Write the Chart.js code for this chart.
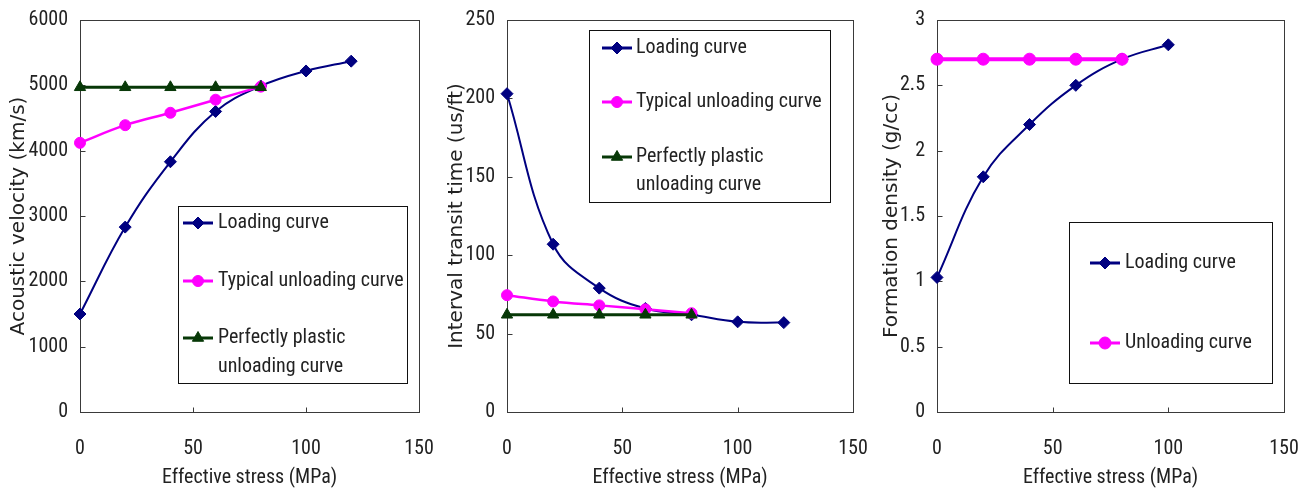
<!DOCTYPE html>
<html>
<head>
<meta charset="utf-8">
<script src="https://cdn.jsdelivr.net/npm/chart.js@4.4.1/dist/chart.umd.min.js"></script>
<style>
  html, body { margin: 0; padding: 0; background: #fff; }
  body { width: 1311px; height: 490px; position: relative; overflow: hidden; }
  .panel { position: absolute; top: 0; height: 490px; }
  canvas { display: block; }
</style>
</head>
<body>
<div class="panel" style="left:0px;width:442px"><canvas id="velocity" width="442" height="490"></canvas></div>
<div class="panel" style="left:438px;width:432px"><canvas id="transit" width="432" height="490"></canvas></div>
<div class="panel" style="left:873px;width:438px"><canvas id="density" width="438" height="490"></canvas></div>
<script>
// ---- data ----
const stressLoading = [0, 20, 40, 60, 80, 100, 120];
const stressUnloading = [0, 20, 40, 60, 80];
const stressDensityLoading = [0, 20, 40, 60, 80, 100];

const velocityLoading = [1500, 2830, 3830, 4600, 4990, 5220, 5370];
const velocityTypicalUnloading = [4120, 4390, 4580, 4780, 4980];
const velocityPlasticUnloading = [4970, 4970, 4970, 4970, 4970];

const transitLoading = [203, 107, 79, 66, 62, 57.5, 57];
const transitTypicalUnloading = [74.5, 70.5, 68, 65.5, 63];
const transitPlasticUnloading = [62, 62, 62, 62, 62];

const densityLoading = [1.03, 1.8, 2.2, 2.5, 2.7, 2.81];
const densityUnloading = [2.7, 2.7, 2.7, 2.7, 2.7];

// ---- tick values and labels ----
const stressTicks = [0, 50, 100, 150];
const stressTickLabels = ['0', '50', '100', '150'];
const velocityTicks = [0, 1000, 2000, 3000, 4000, 5000, 6000];
const velocityTickLabels = ['0', '1000', '2000', '3000', '4000', '5000', '6000'];
const transitTicks = [0, 50, 100, 150, 200, 250];
const transitTickLabels = ['0', '50', '100', '150', '200', '250'];
const densityTicks = [0, 0.5, 1, 1.5, 2, 2.5, 3];
const densityTickLabels = ['0', '0.5', '1', '1.5', '2', '2.5', '3'];

// ---- styling ----
const NAVY = '#000080';
const MAGENTA = '#ff00ff';
const GREEN = '#073807';
const TEXT = '#222';
const NARROW = "'Roboto Condensed', 'DejaVu Sans Condensed', sans-serif";
const WIDE = "'DejaVu Sans', sans-serif";
const NARROW_SIZE = 20;

function points(xs, ys) { return xs.map((x, i) => ({ x, y: ys[i] })); }

function drawMarker(ctx, style, r, x, y, color) {
  ctx.fillStyle = color;
  ctx.strokeStyle = color;
  ctx.lineWidth = 1;
  ctx.beginPath();
  if (style === 'rectRot') {
    ctx.moveTo(x, y - r); ctx.lineTo(x + r, y); ctx.lineTo(x, y + r); ctx.lineTo(x - r, y);
    ctx.closePath();
  } else if (style === 'triangle') {
    ctx.moveTo(x, y - r);
    ctx.lineTo(x + r * Math.sin(2 * Math.PI / 3), y - r * Math.cos(2 * Math.PI / 3));
    ctx.lineTo(x + r * Math.sin(4 * Math.PI / 3), y - r * Math.cos(4 * Math.PI / 3));
    ctx.closePath();
  } else {
    ctx.arc(x, y, r, 0, Math.PI * 2);
  }
  ctx.fill();
  ctx.stroke();
}

// plot frame with inward tick marks
const framePlugin = {
  id: 'plotFrame',
  beforeDatasetsDraw(chart) {
    const { ctx, chartArea: a, scales } = chart;
    const L = Math.round(a.left) + 0.5, R = Math.round(a.right) + 0.5;
    const T = Math.round(a.top) + 0.5, B = Math.round(a.bottom) + 0.5;
    ctx.save();
    ctx.strokeStyle = '#3a3a3a';
    ctx.lineWidth = 1;
    ctx.strokeRect(L, T, R - L, B - T);
    ctx.beginPath();
    scales.x.ticks.forEach(t => {
      const px = Math.round(scales.x.getPixelForValue(t.value)) + 0.5;
      ctx.moveTo(px, B); ctx.lineTo(px, B - 5);
    });
    scales.y.ticks.forEach(t => {
      const py = Math.round(scales.y.getPixelForValue(t.value)) + 0.5;
      ctx.moveTo(L, py); ctx.lineTo(L + 5, py);
    });
    ctx.stroke();
    ctx.restore();
  }
};

// boxed legend placed inside the plot
const boxLegendPlugin = {
  id: 'boxLegend',
  afterDatasetsDraw(chart, args, o) {
    const { ctx } = chart;
    ctx.save();
    ctx.fillStyle = '#fff';
    ctx.fillRect(o.box[0], o.box[1], o.box[2] - o.box[0], o.box[3] - o.box[1]);
    ctx.strokeStyle = '#111';
    ctx.lineWidth = 1;
    ctx.strokeRect(o.box[0] + 0.5, o.box[1] + 0.5, o.box[2] - o.box[0], o.box[3] - o.box[1]);
    chart.data.datasets.forEach((ds, i) => {
      const y = o.rows[i];
      ctx.strokeStyle = ds.borderColor;
      ctx.lineWidth = 3;
      ctx.beginPath();
      ctx.moveTo(o.seg[0], y); ctx.lineTo(o.seg[1], y);
      ctx.stroke();
      drawMarker(ctx, ds.pointStyle, ds.pointRadius, (o.seg[0] + o.seg[1]) / 2, y, ds.borderColor);
      ctx.fillStyle = TEXT;
      ctx.font = NARROW_SIZE + 'px ' + NARROW;
      ctx.textBaseline = 'middle';
      ctx.textAlign = 'left';
      ds.label.split('\n').forEach((line, k) => {
        ctx.fillText(line, o.textX, y + k * o.lineGap);
      });
    });
    ctx.restore();
  }
};

function tickSetter(values) {
  return scale => { scale.ticks = values.map(v => ({ value: v })); };
}
function labelFor(values, labels) {
  return v => { const i = values.indexOf(v); return i >= 0 ? labels[i] : ''; };
}
// fixed axis box sizes, without the automatic label overhang padding
function fixHeight(h) {
  return s => { s.height = h; s.paddingLeft = 0; s.paddingRight = 0; s.paddingTop = 0; s.paddingBottom = 0; };
}
function fixWidth(w) {
  return s => { s.width = w; s.paddingLeft = 0; s.paddingRight = 0; s.paddingTop = 0; s.paddingBottom = 0; };
}

function makeChart(id, opts) {
  return new Chart(document.getElementById(id), {
    type: 'scatter',
    data: { datasets: opts.datasets },
    options: {
      responsive: false,
      animation: false,
      events: [],
      layout: { autoPadding: false, padding: { top: 20, right: opts.padRight, left: 0, bottom: 0 } },
      plugins: {
        legend: { display: false },
        tooltip: { enabled: false },
        boxLegend: opts.legend
      },
      scales: {
        x: {
          type: 'linear',
          min: 0, max: 150,
          afterBuildTicks: tickSetter(stressTicks),
          afterFit: fixHeight(78),
          grid: { display: false, drawTicks: false },
          border: { display: false },
          ticks: {
            padding: 25,
            color: TEXT,
            font: { family: NARROW, size: NARROW_SIZE },
            maxRotation: 0,
            callback: labelFor(stressTicks, stressTickLabels)
          },
          title: {
            display: true,
            text: 'Effective stress (MPa)',
            color: TEXT,
            font: { family: NARROW, size: NARROW_SIZE },
            padding: { top: 0, bottom: 0 }
          }
        },
        y: {
          type: 'linear',
          min: opts.yTicks[0], max: opts.yTicks[opts.yTicks.length - 1],
          afterBuildTicks: tickSetter(opts.yTicks),
          afterFit: fixWidth(opts.yWidth),
          grid: { display: false, drawTicks: false },
          border: { display: false },
          ticks: {
            padding: 12,
            color: TEXT,
            font: { family: NARROW, size: NARROW_SIZE },
            callback: labelFor(opts.yTicks, opts.yLabels)
          },
          title: {
            display: true,
            text: opts.yTitle,
            color: TEXT,
            font: { family: WIDE, size: 20 },
            padding: { top: 7, bottom: 0 }
          }
        }
      }
    },
    plugins: [framePlugin, boxLegendPlugin]
  });
}

function series(label, xs, ys, color, style, radius, width, order) {
  return {
    label, data: points(xs, ys), showLine: true,
    borderColor: color, backgroundColor: color,
    pointBackgroundColor: color, pointBorderColor: color,
    pointStyle: style, pointRadius: radius, pointBorderWidth: 1,
    borderWidth: width, tension: 0.4, clip: false, order
  };
}

makeChart('velocity', {
  padRight: 23, yWidth: 80,
  yTicks: velocityTicks, yLabels: velocityTickLabels,
  yTitle: 'Acoustic velocity (km/s)',
  datasets: [
    series('Loading curve', stressLoading, velocityLoading, NAVY, 'rectRot', 6, 2, 3),
    series('Typical unloading curve', stressUnloading, velocityTypicalUnloading, MAGENTA, 'circle', 5.5, 2.5, 2),
    series('Perfectly plastic\nunloading curve', stressUnloading, velocityPlasticUnloading, GREEN, 'triangle', 6.5, 3, 1)
  ],
  legend: { box: [178, 206, 407, 383], seg: [183, 213], textX: 218, rows: [223, 281, 338], lineGap: 29 }
});

makeChart('transit', {
  padRight: 17, yWidth: 69,
  yTicks: transitTicks, yLabels: transitTickLabels,
  yTitle: 'Interval transit time (us/ft)',
  datasets: [
    series('Loading curve', stressLoading, transitLoading, NAVY, 'rectRot', 6, 2, 3),
    series('Typical unloading curve', stressUnloading, transitTypicalUnloading, MAGENTA, 'circle', 5.5, 2.5, 2),
    series('Perfectly plastic\nunloading curve', stressUnloading, transitPlasticUnloading, GREEN, 'triangle', 6.5, 3, 1)
  ],
  legend: { box: [589 - 438, 30, 830 - 438, 202], seg: [602 - 438, 632 - 438], textX: 636 - 438, rows: [48, 102, 157], lineGap: 28 }
});

makeChart('density', {
  padRight: 27, yWidth: 64,
  yTicks: densityTicks, yLabels: densityTickLabels,
  yTitle: 'Formation density (g/cc)',
  datasets: [
    series('Loading curve', stressDensityLoading, densityLoading, NAVY, 'rectRot', 6, 2, 2),
    series('Unloading curve', stressUnloading, densityUnloading, MAGENTA, 'circle', 6, 4, 1)
  ],
  legend: { box: [1069 - 873, 222, 1272 - 873, 383], seg: [1090 - 873, 1120 - 873], textX: 1125 - 873, rows: [263, 343], lineGap: 28 }
});
</script>
</body>
</html>
